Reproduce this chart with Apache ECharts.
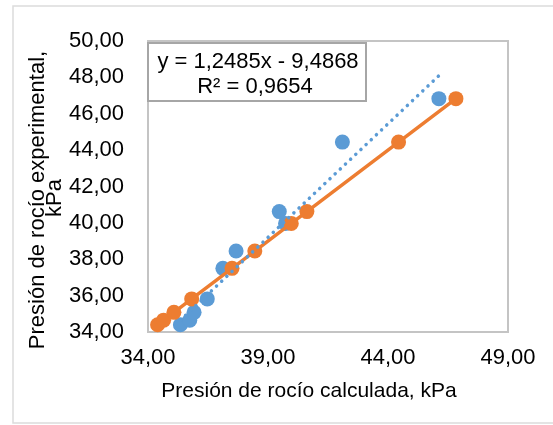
<!DOCTYPE html>
<html>

<head>
    <meta charset="utf-8">
    <script src="https://cdn.jsdelivr.net/npm/echarts@6/dist/echarts.min.js"></script>
</head>

<body style="margin:0;background:#fff;">
    <div id="main" style="width: 553px;height:425px;"></div>
    <script type="text/javascript">
        // presión de rocío: calculada (x) vs experimental (y), kPa
        var calculada = [35.35, 35.74, 35.92, 36.47, 37.12, 37.67, 39.73, 39.47, 42.10, 46.12];
        var experimental = [34.40, 34.65, 35.08, 35.82, 37.50, 38.45, 39.97, 40.62, 44.44, 46.83];

        // tendencia lineal (Excel)
        var pendiente = 1.2485;
        var intercepto = -9.4868;

        var xTicks = [34, 39, 44, 49];
        var yTicks = [34, 36, 38, 40, 42, 44, 46, 48, 50];

        var FONT = 'Liberation Sans';
        var coma = function (v) { return v.toFixed(2).replace('.', ','); };

        var puntos = calculada.map(function (x, i) { return [x, experimental[i]]; });
        // linea ideal y = x con los valores experimentales
        var ideal = experimental.map(function (v) { return [v, v]; });

        var xMin = Math.min.apply(null, calculada);
        var xMax = Math.max.apply(null, calculada);
        var tendencia = [
            [xMin, pendiente * xMin + intercepto],
            [xMax, pendiente * xMax + intercepto]
        ];

        var myChart = echarts.init(document.getElementById('main'));

        var option = {
            animation: false,
            backgroundColor: '#fff',
            grid: {
                left: 148, right: 45, top: 41, bottom: 93,
                show: true, borderColor: '#c4c4c4', borderWidth: 2
            },
            xAxis: {
                type: 'value',
                min: xTicks[0], max: xTicks[xTicks.length - 1], interval: 5,
                axisLine: { show: false },
                axisTick: { show: false },
                splitLine: { show: false },
                axisLabel: {
                    margin: 15, fontFamily: FONT, fontSize: 22, color: '#000',
                    formatter: coma
                }
            },
            yAxis: {
                type: 'value',
                min: yTicks[0], max: yTicks[yTicks.length - 1], interval: 2,
                axisLine: { show: false },
                axisTick: { show: false },
                splitLine: { show: false },
                axisLabel: {
                    margin: 24, fontFamily: FONT, fontSize: 22, color: '#000',
                    formatter: coma
                }
            },
            series: [
                {
                    name: 'calculada',
                    type: 'scatter',
                    data: puntos,
                    symbolSize: 15,
                    itemStyle: { color: '#5b9bd5', opacity: 1 },
                    z: 2
                },
                {
                    name: 'ideal',
                    type: 'line',
                    data: ideal,
                    symbol: 'circle',
                    symbolSize: 15,
                    showSymbol: true,
                    lineStyle: { color: '#ed7d31', width: 3.5 },
                    itemStyle: { color: '#ed7d31', borderWidth: 0 },
                    z: 3
                },
                {
                    name: 'tendencia',
                    type: 'line',
                    data: tendencia,
                    symbol: 'none',
                    lineStyle: { color: '#5b9bd5', width: 3.5, type: [0.1, 7], cap: 'round' },
                    z: 4
                }
            ],
            graphic: [
                {
                    type: 'rect', silent: true, z: -10,
                    shape: { x: 13, y: 6, width: 600, height: 417 },
                    style: { fill: 'none', stroke: '#dcdcdc', lineWidth: 1.5 }
                },
                {
                    type: 'rect', z: 10,
                    shape: { x: 148, y: 43, width: 218, height: 58 },
                    style: { fill: '#fff', stroke: '#a6a6a6', lineWidth: 2 }
                },
                {
                    type: 'text', z: 11, x: 258, y: 62,
                    style: {
                        text: 'y = 1,2485x - 9,4868',
                        font: '22px "Liberation Sans"', fill: '#000',
                        textAlign: 'center', textVerticalAlign: 'middle'
                    }
                },
                {
                    type: 'text', z: 11, x: 255, y: 87,
                    style: {
                        text: 'R² = 0,9654',
                        font: '22px "Liberation Sans"', fill: '#000',
                        textAlign: 'center', textVerticalAlign: 'middle'
                    }
                },
                {
                    type: 'text', x: 309, y: 391,
                    style: {
                        text: 'Presión de rocío calculada, kPa',
                        font: '21px "Liberation Sans"', fill: '#000',
                        textAlign: 'center', textVerticalAlign: 'middle'
                    }
                },
                {
                    type: 'text', x: 38, y: 200, rotation: Math.PI / 2,
                    style: {
                        text: 'Presión de rocío experimental,',
                        font: '22px "Liberation Sans"', fill: '#000',
                        textAlign: 'center', textVerticalAlign: 'middle'
                    }
                },
                {
                    type: 'text', x: 55, y: 198, rotation: Math.PI / 2,
                    style: {
                        text: 'kPa',
                        font: '22px "Liberation Sans"', fill: '#000',
                        textAlign: 'center', textVerticalAlign: 'middle'
                    }
                }
            ]
        };
        myChart.setOption(option);
    </script>
</body>

</html>
